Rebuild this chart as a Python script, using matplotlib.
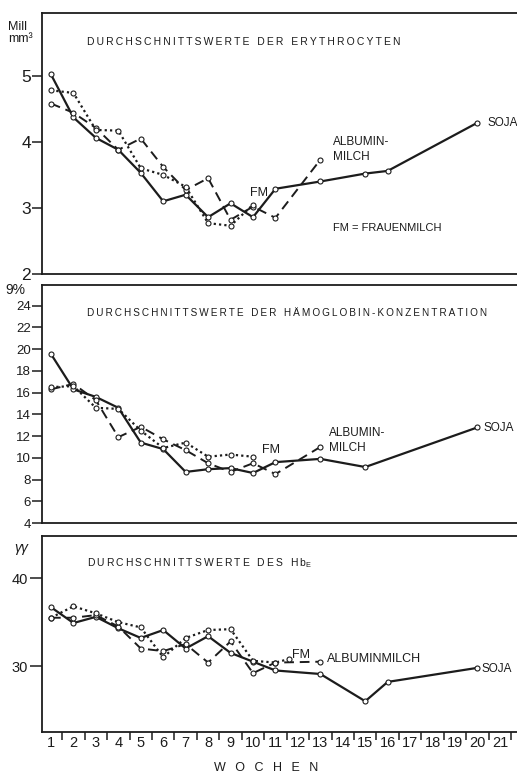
import matplotlib
matplotlib.use("Agg")
import matplotlib.pyplot as plt

# =============================================================================
# values (weeks on x)

ery_soja_w = [1, 2, 3, 4, 5, 6, 7, 8, 9, 10, 11, 13, 15, 16, 20]
ery_soja = [5.02, 4.37, 4.06, 3.88, 3.53, 3.10, 3.20, 2.86, 3.07, 2.86, 3.29, 3.40, 3.52, 3.56, 4.29]
ery_alb_w = [1, 2, 3, 4, 5, 6, 7, 8, 9, 10, 11, 13]
ery_alb = [4.58, 4.44, 4.21, 3.88, 4.05, 3.62, 3.27, 3.45, 2.82, 3.02, 2.85, 3.73]
ery_fm_w = [1, 2, 3, 4, 5, 6, 7, 8, 9, 10]
ery_fm = [4.78, 4.74, 4.18, 4.17, 3.60, 3.50, 3.32, 2.77, 2.73, 3.05]

hb_soja_w = [1, 2, 3, 4, 5, 6, 7, 8, 9, 10, 11, 13, 15, 20]
hb_soja = [19.55, 16.3, 15.6, 14.6, 11.4, 10.8, 8.7, 8.95, 9.05, 8.6, 9.6, 9.9, 9.15, 12.8]
hb_alb_w = [1, 2, 3, 4, 5, 6, 7, 8, 9, 10, 11, 13]
hb_alb = [16.3, 16.8, 15.3, 11.9, 12.85, 11.7, 10.7, 9.5, 8.7, 9.5, 8.5, 11.0]
hb_fm_w = [1, 2, 3, 4, 5, 6, 7, 8, 9, 10]
hb_fm = [16.5, 16.6, 14.6, 14.5, 12.5, 10.9, 11.4, 10.1, 10.3, 10.1]

hbe_soja_w = [1, 2, 3, 4, 5, 6, 7, 8, 9, 10, 11, 13, 15, 16, 20]
hbe_soja = [36.7, 34.9, 35.6, 34.3, 33.2, 34.1, 32.0, 33.4, 31.5, 30.5, 29.5, 29.1, 26.0, 28.2, 29.8]
hbe_alb_w = [1, 2, 3, 4, 5, 6, 7, 8, 9, 10, 11, 13]
hbe_alb = [35.5, 35.5, 35.8, 34.5, 32.0, 31.7, 32.5, 30.4, 32.8, 29.2, 30.4, 30.5]
hbe_fm_w = [1, 2, 3, 4, 5, 6, 7, 8, 9, 10, 11, 11.6]
hbe_fm = [35.5, 36.8, 36.0, 35.0, 34.4, 31.0, 33.2, 34.1, 34.2, 30.6, 30.4, 30.8]

week_labels = [str(w) for w in range(1, 22)]

# =============================================================================

W, H = 517, 776
INK = "#1c1c1c"
SANS = ["Liberation Sans", "DejaVu Sans"]
THIN = "\u2009"

plt.rcParams["font.family"] = SANS
plt.rcParams["text.color"] = INK


def spaced(s):
  # letter-spaced caps as in the old typewritten titles
  return (THIN + "  ").join(THIN.join(w) for w in s.split(" "))


def px_axes(fig, left, top, bottom, right=W):
  return fig.add_axes([left / W, 1 - bottom / H, (right - left) / W, (bottom - top) / H])


def style_axes(ax, ylim, yticks, labelsize, ticklen):
  ax.set_xlim(0.6, 21.76)
  ax.set_ylim(*ylim)
  ax.set_yticks(yticks)
  for sp in ["top", "left", "bottom"]:
    ax.spines[sp].set_linewidth(1.3)
    ax.spines[sp].set_color(INK)
  ax.spines["right"].set_visible(False)
  ax.tick_params(axis="y", length=ticklen, width=1.1, pad=1, labelsize=labelsize,
                 colors=INK)


def draw_series(ax, sw, s, aw, a, fw, f):
  mk = dict(marker="o", ms=3.6, mfc="white", mec=INK, mew=0.8, color=INK)
  ax.plot(sw, s, ls="-", lw=1.6, zorder=3, **mk)
  ax.plot(aw, a, ls=(0, (5, 3)), lw=1.4, zorder=4, **mk)
  ax.plot(fw, f, ls=(0, (1, 1.4)), lw=1.6, zorder=5, **mk)


def main():
  fig = plt.figure(figsize=(W / 100, H / 100), dpi=100)
  fig.patch.set_facecolor("white")

  # --- erythrocytes
  ax1 = px_axes(fig, 42, 13, 274)
  style_axes(ax1, (2, 5.95), [2, 3, 4, 5], 12.5, 7)
  ax1.set_xticks([])
  draw_series(ax1, ery_soja_w, ery_soja, ery_alb_w, ery_alb, ery_fm_w, ery_fm)
  ax1.text(0.095, 0.888, spaced("DURCHSCHNITTSWERTE DER ERYTHROCYTEN"),
           transform=ax1.transAxes, fontsize=7.5, va="center")
  ax1.text(20.45, 4.29, "SOJA", fontsize=8.5, va="center")
  ax1.text(13.55, 3.88, "ALBUMIN-\nMILCH", fontsize=8.5, va="center",
           linespacing=1.3)
  ax1.text(9.85, 3.23, "FM", fontsize=9, va="center")
  ax1.text(13.55, 2.70, "FM = FRAUENMILCH", fontsize=8, va="center")
  fig.text(8 / W, 1 - 27 / H, "Mill", fontsize=9, va="center")
  fig.text(8 / W, 1 - 39 / H, "mm³", fontsize=9, va="center")

  # --- haemoglobin
  ax2 = px_axes(fig, 42, 285, 523)
  style_axes(ax2, (4, 25.9), list(range(4, 25, 2)), 9.5, 7)
  ax2.set_xticks([])
  draw_series(ax2, hb_soja_w, hb_soja, hb_alb_w, hb_alb, hb_fm_w, hb_fm)
  ax2.text(0.095, 0.882, spaced("DURCHSCHNITTSWERTE DER HÄMOGLOBIN-KONZENTRATION"),
           transform=ax2.transAxes, fontsize=7.2, va="center")
  ax2.text(20.25, 12.7, "SOJA", fontsize=8.5, va="center")
  ax2.text(13.4, 11.56, "ALBUMIN-\nMILCH", fontsize=8.5, va="center",
           linespacing=1.3)
  ax2.text(10.4, 10.75, "FM", fontsize=9, va="center")
  fig.text(5 / W, 1 - 290 / H, "9%", fontsize=10, va="center")

  # --- HbE
  ax3 = px_axes(fig, 42, 536, 732)
  style_axes(ax3, (22.5, 44.8), [30, 40], 10.5, 9)
  ax3.set_xticks(range(1, 22))
  ax3.set_xticklabels(week_labels)
  ax3.set_xticks([w + 0.5 for w in range(1, 22)], minor=True)
  ax3.tick_params(axis="x", which="major", length=0, pad=3, labelsize=10.5,
                  colors=INK)
  ax3.tick_params(axis="x", which="minor", length=6, width=1.1, direction="out",
                  colors=INK)
  draw_series(ax3, hbe_soja_w, hbe_soja, hbe_alb_w, hbe_alb, hbe_fm_w, hbe_fm)
  ax3.text(0.095, 0.862, spaced("DURCHSCHNITTSWERTE DES") + THIN + "  H" + THIN
           + "b$\\mathregular{_E}$",
           transform=ax3.transAxes, fontsize=7.5, va="center")
  ax3.text(20.2, 29.7, "SOJA", fontsize=8.5, va="center")
  ax3.text(13.3, 30.8, "ALBUMINMILCH", fontsize=9, va="center")
  ax3.text(11.75, 31.3, "FM", fontsize=9, va="center")
  fig.text(14 / W, 1 - 548 / H, "γγ", fontsize=10, va="center", style="italic")
  fig.text(266 / W, 1 - 768 / H, "W" + THIN + "  O" + THIN + "  C" + THIN + "  H"
           + THIN + "  E" + THIN + "  N", fontsize=9, ha="center", va="center")

  fig.savefig("out.png", dpi=100, facecolor="white")


if __name__ == "__main__":
  main()
